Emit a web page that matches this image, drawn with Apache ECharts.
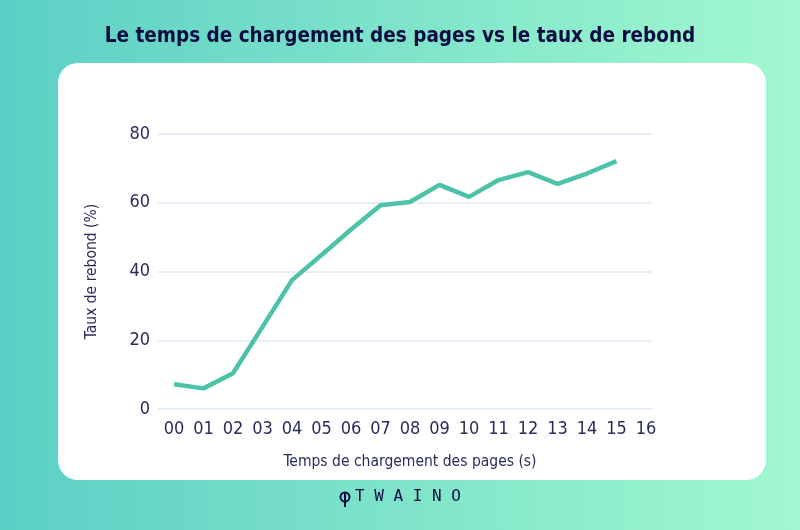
<!DOCTYPE html>
<html>
<head>
<meta charset="utf-8">
<script src="https://cdn.jsdelivr.net/npm/echarts@6/dist/echarts.min.js"></script>
<style>
  html, body { margin: 0; padding: 0; }
  #chart { width: 800px; height: 530px; }
</style>
</head>
<body>
<div id="chart"></div>
<script>
const titleText = 'Le temps de chargement des pages vs le taux de rebond';
const xAxisName = 'Temps de chargement des pages (s)';
const yAxisName = 'Taux de rebond (%)';
const categories = ['00','01','02','03','04','05','06','07','08','09','10','11','12','13','14','15','16'];
const bounceRate = [7.2, 6.0, 10.4, 23.9, 37.5, 44.8, 52.2, 59.3, 60.2, 65.2, 61.7, 66.6, 68.9, 65.5, 68.5, 72.1, null];
const yMin = 0, yMax = 80, yStep = 20;
const brand = 'T W A I N O';

const FONT = "'Liberation Sans Narrow', 'DejaVu Sans Condensed', 'Roboto', sans-serif";
const NAVY = '#2b2b5c';

const chart = echarts.init(document.getElementById('chart'));
chart.setOption({
  backgroundColor: new echarts.graphic.LinearGradient(0, 0, 1, 0, [
    { offset: 0, color: '#5bcfc5' },
    { offset: 1, color: '#a2f8cf' }
  ]),
  animation: false,
  title: {
    text: titleText,
    left: 'center',
    top: 21,
    textStyle: { fontFamily: FONT, fontWeight: 'bold', fontSize: 20.5, color: '#0c0c42' }
  },
  graphic: [
    { type: 'rect', z: -10, shape: { x: 58, y: 63, width: 708, height: 417, r: 20 }, style: { fill: '#ffffff' } },
    { type: 'group', left: 338, top: 490, children: [
      { type: 'circle', shape: { cx: 5, cy: 5, r: 4.5 }, style: { fill: 'none', stroke: '#0c0c42', lineWidth: 2 } },
      { type: 'line', shape: { x1: 5, y1: 1, x2: 5, y2: 15 }, style: { stroke: '#0c0c42', lineWidth: 2 } }
    ]},
    { type: 'text', left: 355, top: 489, style: { text: brand, fontFamily: "'DejaVu Sans Mono', monospace", fontSize: 16, fill: '#0c0c42' } }
  ],
  grid: [
    { left: 158, right: 148, top: 134, height: 275 },
    { left: 174, right: 154, top: 134, height: 275 }
  ],
  xAxis: [
    { type: 'category', gridIndex: 0, data: categories, show: false },
    {
      type: 'category', gridIndex: 1, data: categories, boundaryGap: false,
      axisLine: { show: false }, axisTick: { show: false },
      axisLabel: { margin: 11, fontFamily: FONT, fontSize: 18, color: NAVY, interval: 0 },
      name: xAxisName, nameLocation: 'middle', nameGap: 45,
      nameTextStyle: { fontFamily: FONT, fontSize: 15.5, color: NAVY }
    }
  ],
  yAxis: [
    {
      type: 'value', gridIndex: 0, min: yMin, max: yMax, interval: yStep,
      axisLine: { show: false }, axisTick: { show: false },
      axisLabel: { margin: 8, fontFamily: FONT, fontSize: 18, color: NAVY },
      splitLine: { lineStyle: { color: '#dde9f5', width: 1.5 } },
      name: yAxisName, nameLocation: 'middle', nameGap: 58, nameRotate: 90,
      nameTextStyle: { fontFamily: FONT, fontSize: 15.5, color: NAVY }
    },
    { type: 'value', gridIndex: 1, min: yMin, max: yMax, interval: yStep, show: false }
  ],
  series: [{
    type: 'line',
    xAxisIndex: 1, yAxisIndex: 1,
    data: bounceRate,
    symbol: 'none',
    lineStyle: { color: '#4cc3a9', width: 4.5 },
    itemStyle: { color: '#4cc3a9' }
  }]
});
</script>
</body>
</html>
